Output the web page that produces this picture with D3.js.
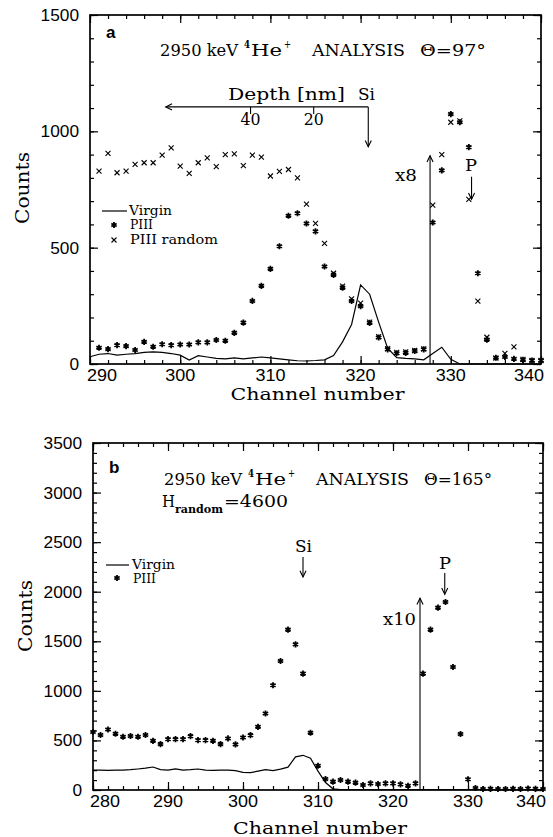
<!DOCTYPE html>
<html>
<head>
<meta charset="utf-8">
<script src="https://cdnjs.cloudflare.com/ajax/libs/d3/7.8.5/d3.min.js"></script>
<style>
body { margin: 0; background: #fff; }
svg { display: block; }
</style>
</head>
<body>
<div id="viz"></div>
<script>
// panel a : 97 deg, channels 290..340
const firstVirginA = 290;
const virginA = [31, 42, 45, 38, 42, 45, 50, 52, 50, 45,
	38, 17, 36, 30, 24, 22, 26, 22, 26, 30,
	26, 22, 18, 14, 13, 15, 18, 36, 95, 170,
	340, 300, 180, 68, 27, 24, 22, 18, 45, 72,
	20, 0, 0, 0, 0, 0, 0, 0, 0, 0,
	0];
const firstPointA = 291;
const piiiA = [70, 64, 81, 77, 60, 95, 74, 85, 81, 84,
	84, 93, 93, 103, 100, 134, 178, 271, 336, 409,
	506, 637, 648, 604, 570, 419, 383, 328, 271, 249,
	177, 114, 63, 46, 48, 56, 63, 608, 832, 1074,
	1039, 932, 390, 105, 27, 30, 22, 18, 15, 15];
const randomA = [829, 905, 822, 829, 858, 865, 865, 898, 929, 850,
	819, 865, 886, 848, 900, 903, 853, 898, 889, 808,
	828, 836, 800, 687, 604, 518, 390, 335, 280, 262,
	180, 118, 66, 50, 52, 58, 65, 683, 900, 1039,
	1045, 708, 270, 115, 25, 46, 74, 20, 15, 15];

// panel b : 165 deg, channels 280..340
const firstVirginB = 280;
const virginB = [200, 200, 198, 200, 200, 205, 212, 220, 232, 205,
	200, 212, 200, 205, 212, 200, 198, 200, 200, 195,
	178, 175, 190, 205, 195, 210, 230, 335, 350, 320,
	190, 75, 12, 5, 5, 5, 5, 5, 5, 5,
	5, 5, 5, 5, 5, 5, 5, 5, 5, 5,
	5, 5, 5, 5, 5, 5, 5, 5, 5, 5,
	5];
const firstPointB = 280;
const piiiB = [585, 555, 610, 567, 537, 545, 537, 555, 496, 463,
	513, 513, 513, 543, 503, 503, 496, 463, 520, 460,
	530, 553, 637, 772, 1057, 1301, 1617, 1469, 1174, 577,
	245, 111, 84, 101, 84, 74, 50, 67, 60, 67,
	67, 57, 43, 67, 1174, 1617, 1839, 1896, 1241, 565,
	108, 20, 10, 12, 10, 10, 12, 10, 15, 12,
	10];

const xTicksA = [290, 300, 310, 320, 330, 340];
const yTicksA = [0, 500, 1000, 1500];
const xTicksB = [280, 290, 300, 310, 320, 330, 340];
const yTicksB = [0, 500, 1000, 1500, 2000, 2500, 3000, 3500];

const serif = "DejaVu Serif";
const sans = "Liberation Sans";

let svg = d3.select("#viz").append("svg")
	.attr("width", 553).attr("height", 837);

function pts(first, vals) {
	return vals.map((v, i) => ({ ch: first + i, v: v }));
}

function arrow(g, x1, y1, x2, y2) {
	g.append("line")
		.attr("x1", x1).attr("y1", y1).attr("x2", x2).attr("y2", y2)
		.attr("stroke", "#000").attr("stroke-width", 1.1);
	let a = Math.atan2(y2 - y1, x2 - x1), L = 7, s = 0.45;
	g.append("path")
		.attr("d", "M" + (x2 - L * Math.cos(a - s)) + "," + (y2 - L * Math.sin(a - s)) +
			"L" + x2 + "," + y2 +
			"L" + (x2 - L * Math.cos(a + s)) + "," + (y2 - L * Math.sin(a + s)))
		.attr("fill", "none").attr("stroke", "#000").attr("stroke-width", 1.1);
}

function txt(g, s, x, y, size, len, fam) {
	let t = g.append("text").text(s)
		.attr("x", x).attr("y", y)
		.style("font-family", fam || serif)
		.style("font-size", size + "px")
		.style("fill", "#000");
	if (len) t.attr("textLength", len).attr("lengthAdjust", "spacingAndGlyphs");
	return t;
}

function star(g, x, y) {
	g.append("path")
		.attr("d", d3.symbol(d3.symbolAsterisk, 26)())
		.attr("transform", "translate(" + x + "," + y + ")")
		.attr("fill", "none").attr("stroke", "#000").attr("stroke-width", 1.8);
}

function cross(g, x, y) {
	g.append("path")
		.attr("d", d3.symbol(d3.symbolTimes, 18)())
		.attr("transform", "translate(" + x + "," + y + ")")
		.attr("fill", "none").attr("stroke", "#000").attr("stroke-width", 1.1);
}

function frame(g, x, y, xt, yt, xminor, yminor, xlab) {
	let [x0, x1] = x.range(), [y0, y1] = y.range();
	let parts = [
		[d3.axisBottom(x), "translate(0," + y0 + ")", xt, xminor],
		[d3.axisTop(x), "translate(0," + y1 + ")", xt, xminor],
		[d3.axisLeft(y), "translate(" + x0 + ",0)", yt, yminor],
		[d3.axisRight(y), "translate(" + x1 + ",0)", yt, yminor]
	];
	parts.forEach(p => {
		let maj = g.append("g").attr("transform", p[1])
			.call(p[0].tickValues(p[2]).tickSize(-8).tickFormat(""));
		let mnr = g.append("g").attr("transform", p[1])
			.call(p[0].tickValues(p[3]).tickSize(-4).tickFormat(""));
		[maj, mnr].forEach(a => {
			a.select(".domain").remove();
			a.selectAll("line").attr("stroke", "#000").attr("stroke-width", 1.2);
		});
	});
	g.append("rect")
		.attr("x", x0).attr("y", y1)
		.attr("width", x1 - x0).attr("height", y0 - y1)
		.attr("fill", "none").attr("stroke", "#000").attr("stroke-width", 1.7);

	// tick labels, the end ones are pulled inside like in the print
	xt.forEach((t, i) => {
		let dx = i == 0 ? 12 : (i == xt.length - 1 ? -12 : 0);
		txt(g, t, x(t) + dx, y0 + 17, 16, 30, sans).attr("text-anchor", "middle");
	});
	yt.forEach(t => {
		txt(g, t, x0 - 11, y(t) + 6, 16, String(t).length * 9.6, sans).attr("text-anchor", "end");
	});
	txt(g, "Channel number", (x0 + x1) / 2 + 2, xlab, 17, 174).attr("text-anchor", "middle");
}

function virginLine(g, x, y, first, vals) {
	g.append("path")
		.datum(pts(first, vals))
		.attr("d", d3.line().x(d => x(d.ch)).y(d => y(d.v)))
		.attr("fill", "none").attr("stroke", "#000").attr("stroke-width", 1.2);
}

// title line: 2950 keV 4He+ ANALYSIS theta
function title(g, x, y, angle) {
	txt(g, "2950 keV", x, y, 17, 78);
	txt(g, "4", x + 84, y - 8, 11, 6).style("font-weight", "bold");
	txt(g, "He", x + 91, y, 17, 31);
	txt(g, "+", x + 124, y - 8, 11, 7);
	txt(g, "ANALYSIS", x + 152, y, 17, 93);
	txt(g, "\u0398=" + angle + "\u00b0", x + 260, y, 17, angle.length == 2 ? 66 : 68);
}

// ---------- panel a
let xA = d3.scaleLinear().domain([290, 340]).range([90, 541]);
let yA = d3.scaleLinear().domain([0, 1500]).range([364, 15]);
let gA = svg.append("g");

frame(gA, xA, yA, xTicksA, yTicksA, d3.range(290, 341, 2), d3.range(0, 1501, 100), 400);
virginLine(gA, xA, yA, firstVirginA, virginA);
pts(firstPointA, randomA).forEach(d => cross(gA, xA(d.ch), yA(d.v)));
pts(firstPointA, piiiA).forEach(d => star(gA, xA(d.ch), yA(d.v)));

txt(gA, "Counts", 0, 0, 19, 72)
	.attr("text-anchor", "middle")
	.attr("transform", "translate(29,188) rotate(-90)");

txt(gA, "a", 106, 38, 17, 0, sans).style("font-weight", "bold");
title(gA, 160, 56, "97");

// depth scale
txt(gA, "Depth [nm]", 228, 100, 17, 117);
txt(gA, "Si", 358, 100, 17, 17);
arrow(gA, xA(320.85), yA(1105), xA(298.4), yA(1105));
arrow(gA, xA(320.85), yA(1105), xA(320.85), yA(934));
[["40", 307.8], ["20", 314.8]].forEach(d => {
	gA.append("line")
		.attr("x1", xA(d[1])).attr("x2", xA(d[1]))
		.attr("y1", yA(1105)).attr("y2", yA(1105) + 7)
		.attr("stroke", "#000").attr("stroke-width", 1.1);
	txt(gA, d[0], xA(d[1]), 125, 16, 20).attr("text-anchor", "middle");
});

arrow(gA, xA(327.7), yA(0), xA(327.7), yA(895));
txt(gA, "x8", 395, 181, 17, 22);
txt(gA, "P", 465, 171, 17, 12);
arrow(gA, xA(332.3), yA(805), xA(332.3), yA(708));

// legend a
gA.append("line").attr("x1", 102).attr("x2", 127).attr("y1", 211).attr("y2", 211)
	.attr("stroke", "#000").attr("stroke-width", 1.2);
txt(gA, "Virgin", 129, 215, 13, 43);
star(gA, 114, 225);
txt(gA, "PIII", 130, 229, 13, 23);
cross(gA, 114, 240);
txt(gA, "PIII  random", 130, 244, 13, 88);

// ---------- panel b
let xB = d3.scaleLinear().domain([280, 340]).range([93, 543]);
let yB = d3.scaleLinear().domain([0, 3500]).range([790, 443]);
let gB = svg.append("g");

frame(gB, xB, yB, xTicksB, yTicksB, d3.range(280, 341, 2), d3.range(0, 3501, 100), 834);
virginLine(gB, xB, yB, firstVirginB, virginB);
pts(firstPointB, piiiB).forEach(d => star(gB, xB(d.ch), yB(d.v)));

txt(gB, "Counts", 0, 0, 19, 72)
	.attr("text-anchor", "middle")
	.attr("transform", "translate(32,616) rotate(-90)");

txt(gB, "b", 109, 473, 17, 0, sans).style("font-weight", "bold");
title(gB, 164, 485, "165");
txt(gB, "H", 162, 507, 17, 13);
txt(gB, "random", 175, 513, 11, 48).style("font-weight", "bold");
txt(gB, "=4600", 224, 507, 17, 64);

txt(gB, "Si", 295, 552, 17, 17);
arrow(gB, xB(308), yB(2350), xB(308), yB(2148));
txt(gB, "P", 439, 569, 17, 12);
arrow(gB, xB(326.9), yB(2190), xB(326.9), yB(1975));
arrow(gB, xB(323.6), yB(0), xB(323.6), yB(1935));
txt(gB, "x10", 383, 625, 17, 33);

// legend b
gB.append("line").attr("x1", 106).attr("x2", 129).attr("y1", 565).attr("y2", 565)
	.attr("stroke", "#000").attr("stroke-width", 1.2);
txt(gB, "Virgin", 132, 569, 13, 43);
star(gB, 117, 578);
txt(gB, "PIII", 133, 583, 13, 23);
</script>
</body>
</html>
